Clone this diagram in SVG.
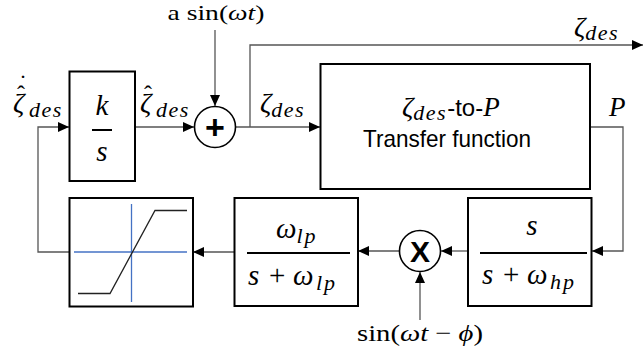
<svg xmlns="http://www.w3.org/2000/svg" width="644" height="356" viewBox="0 0 644 356">
<defs>
<style>
.box{fill:#fff;stroke:#000;stroke-width:2}
.sum{fill:#fff;stroke:#000;stroke-width:1.6}
.wire{fill:none;stroke:#555;stroke-width:1.3}
.m{font-family:"Liberation Serif","DejaVu Serif",serif;font-style:italic;fill:#000}
.r{font-family:"Liberation Serif","DejaVu Serif",serif;fill:#000}
.t{font-family:"Liberation Sans","Arial",sans-serif;fill:#000}
.up{font-style:normal}
.sub{font-size:22px;letter-spacing:1.5px}
.sub2{font-size:22px;letter-spacing:2px}
.bar{stroke:#000;stroke-width:2}
.blue{stroke:#4472C4;stroke-width:1.3}
</style>
<marker id="ah" markerUnits="userSpaceOnUse" markerWidth="12" markerHeight="10" refX="11" refY="5" orient="auto">
<path d="M0,0 L11,5 L0,10 Z" fill="#000"/>
</marker>
</defs>
<rect width="644" height="356" fill="#fff"/>

<g id="connectors">
<path class="wire" d="M215,30 V106" marker-end="url(#ah)"/>
<path class="wire" d="M135,127 H194" marker-end="url(#ah)"/>
<path class="wire" d="M236,127 H320" marker-end="url(#ah)"/>
<path class="wire" d="M250,127 V45 H643" marker-end="url(#ah)"/>
<path class="wire" d="M69,252 H38 V127 H69" marker-end="url(#ah)"/>
<path class="wire" d="M590,127 H623 V251 H592" marker-end="url(#ah)"/>
<path class="wire" d="M468,251 H441" marker-end="url(#ah)"/>
<path class="wire" d="M399,251 H358" marker-end="url(#ah)"/>
<path class="wire" d="M234,252 H193" marker-end="url(#ah)"/>
<path class="wire" d="M420,320 V272" marker-end="url(#ah)"/>
</g>

<g id="label-zetadotdes">
<text class="m" x="13" y="112" font-size="28">ζ<tspan class="up" x="17" y="102" font-size="24">ˆ</tspan><tspan class="up" x="19" y="91" font-size="24">˙</tspan><tspan class="sub" x="29" y="117">des</tspan></text>
</g>

<g id="label-zetahatdes">
<text class="m" x="140" y="112" font-size="28">ζ<tspan class="up" x="144" y="102" font-size="24">ˆ</tspan><tspan class="sub" x="156" y="117">des</tspan></text>
</g>

<g id="label-zetades">
<text class="m" x="260" y="112" font-size="28">ζ<tspan class="sub" dy="5">des</tspan></text>
</g>

<g id="label-zetades-out">
<text class="m" x="574" y="36" font-size="28">ζ<tspan class="sub" dy="4">des</tspan></text>
</g>

<g id="label-asin">
<text class="r" x="216" y="20" font-size="22" text-anchor="middle" textLength="97" lengthAdjust="spacingAndGlyphs">a sin(<tspan class="m">ωt</tspan>)</text>
</g>

<g id="integrator">
<rect class="box" x="69.5" y="71.5" width="65.5" height="109.5"/>
<text class="m" x="102" y="115" font-size="29" text-anchor="middle">k</text>
<line class="bar" x1="92" y1="130" x2="112" y2="130"/>
<text class="m" x="102" y="161" font-size="29" text-anchor="middle">s</text>
</g>

<g id="sum">
<circle class="sum" cx="215" cy="127" r="20.5"/>
<text class="t" x="215" y="139" font-size="34" font-weight="bold" text-anchor="middle">+</text>
</g>

<g id="transfer">
<rect class="box" x="320.5" y="64" width="269.5" height="125"/>
<text class="m" x="402" y="116" font-size="28">ζ<tspan class="sub" dy="4">des</tspan><tspan class="t up" font-size="24" dy="-4">-to-</tspan><tspan font-size="27">P</tspan></text>
<text class="t" x="447" y="147" font-size="24" text-anchor="middle" textLength="168" lengthAdjust="spacingAndGlyphs">Transfer function</text>
</g>

<g id="label-P">
<text class="m" x="609" y="116" font-size="27">P</text>
</g>

<g id="highpass">
<rect class="box" x="468" y="198" width="123.5" height="108"/>
<text class="m" x="532" y="235" font-size="29" text-anchor="middle">s</text>
<line class="bar" x1="480" y1="253" x2="587" y2="253"/>
<text class="m" x="482" y="284" font-size="29">s<tspan class="up" x="503">+</tspan><tspan x="527">ω</tspan><tspan class="sub2" x="550" dy="5">hp</tspan></text>
</g>

<g id="mult">
<circle class="sum" cx="420" cy="251" r="20.5"/>
<text class="t" x="420" y="262" font-size="30" font-weight="bold" text-anchor="middle">X</text>
</g>

<g id="label-sinphi">
<text class="r" x="420" y="341" font-size="24" text-anchor="middle" textLength="126" lengthAdjust="spacingAndGlyphs">sin(<tspan class="m">ωt</tspan> − <tspan class="m">ϕ</tspan>)</text>
</g>

<g id="lowpass">
<rect class="box" x="234.5" y="198" width="123.5" height="108"/>
<text class="m" x="276" y="238" font-size="29">ω<tspan class="sub2" dy="5">lp</tspan></text>
<line class="bar" x1="247" y1="253" x2="350" y2="253"/>
<text class="m" x="248" y="285" font-size="29">s<tspan class="up" x="269">+</tspan><tspan x="293">ω</tspan><tspan class="sub2" x="316" dy="5">lp</tspan></text>
</g>

<g id="saturation">
<rect class="box" x="69.5" y="198" width="123.5" height="108.5"/>
<line class="blue" x1="74" y1="252" x2="187" y2="252"/>
<line class="blue" x1="131.5" y1="204" x2="131.5" y2="302"/>
<path d="M78,293.5 H110 L155,210.5 H187" fill="none" stroke="#222" stroke-width="1.3"/>
</g>
</svg>
